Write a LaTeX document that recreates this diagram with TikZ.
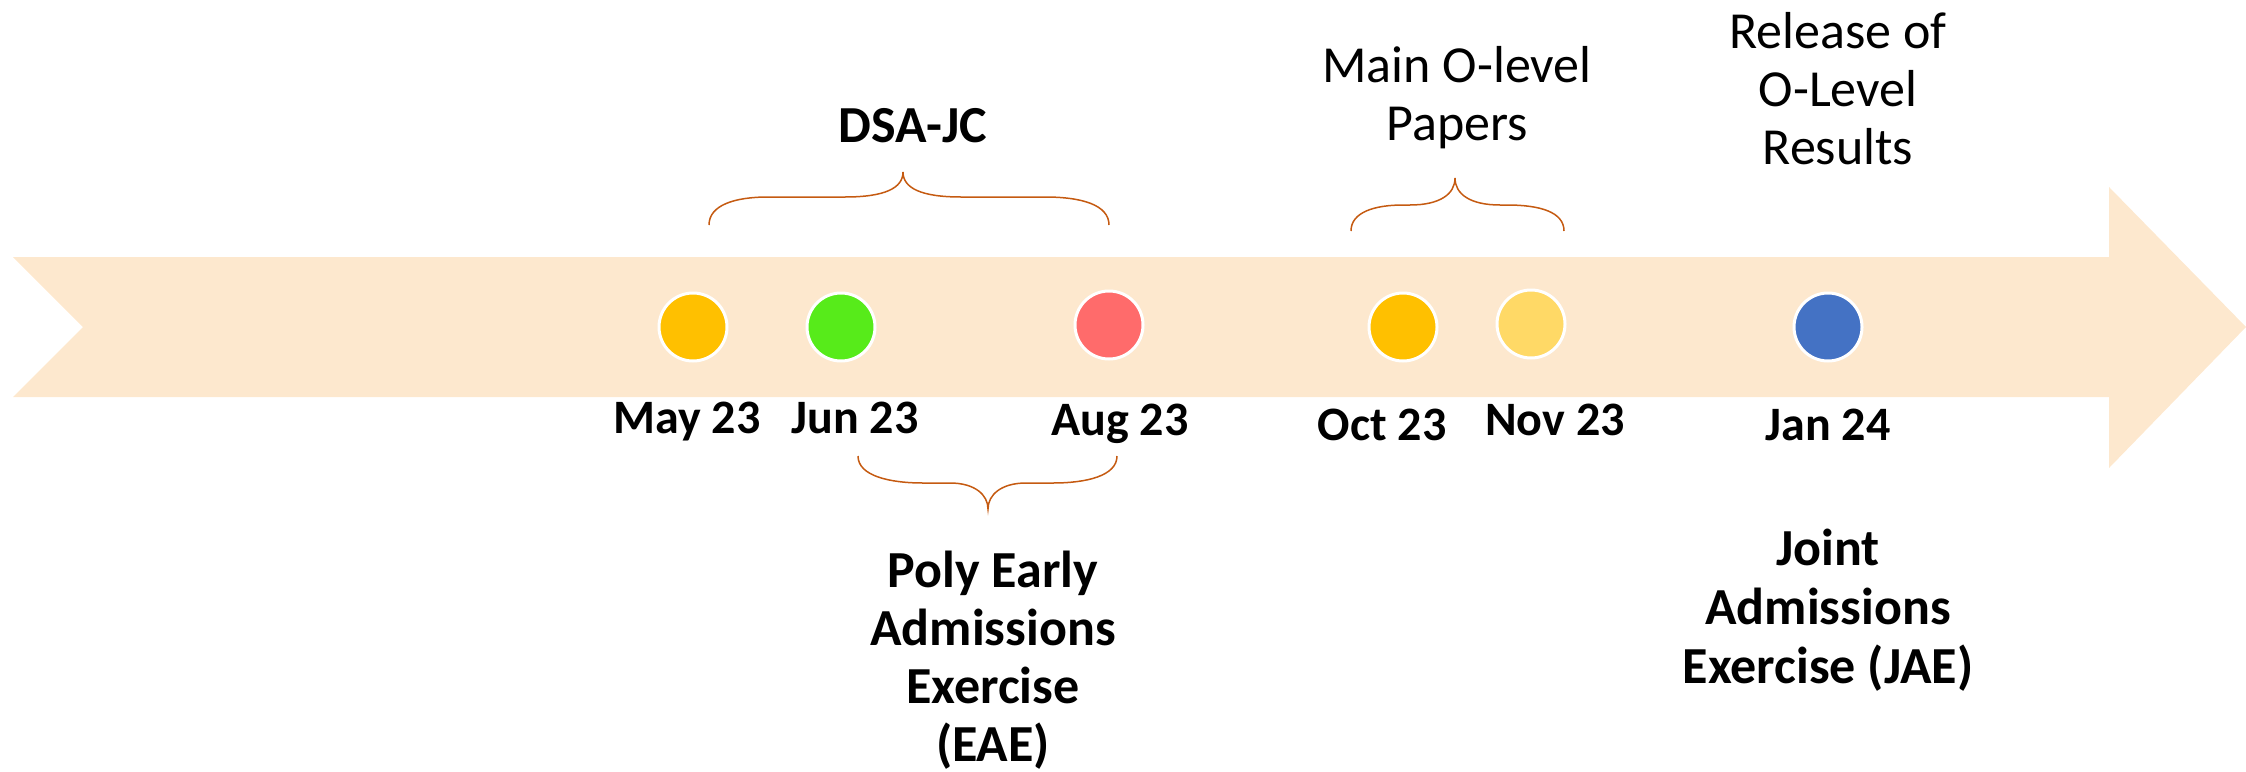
\documentclass[tikz,border=0pt]{standalone}
\usepackage{fontspec}
\setmainfont{Carlito}

\definecolor{band}{RGB}{253,232,206}
\definecolor{braceorange}{RGB}{197,90,17}
\definecolor{dotgold}{RGB}{255,192,0}
\definecolor{dotgreen}{RGB}{87,235,26}
\definecolor{dotred}{RGB}{255,107,107}
\definecolor{dotpale}{RGB}{255,217,102}
\definecolor{dotblue}{RGB}{68,114,196}

\tikzset{
  dot/.style={circle, draw=white, line width=3pt, minimum size=68pt, inner sep=0pt},
  datelbl/.style={font=\bfseries\fontsize{48}{58}\selectfont, anchor=base, inner sep=0pt},
  eventlbl/.style={align=center, anchor=base, inner sep=0pt},
  bracket/.style={draw=braceorange, line width=1.5pt},
}

\begin{document}
\begin{tikzpicture}[x=1pt, y=-1pt]
    \useasboundingbox (0, 0) rectangle (2246, 771);
    % timeline band
    \fill [band] (13, 257) -- (2109, 257) -- (2109, 187) -- (2246, 327)
      -- (2109, 468) -- (2109, 397) -- (13, 397) -- (83, 327) -- cycle;

    \node [dot, fill=dotgold] (may) at (693, 327) {};
    \node [dot, fill=dotgreen] (jun) at (841, 327) {};
    \node [dot, fill=dotred] (aug) at (1109, 325) {};
    \node [dot, fill=dotgold] (oct) at (1403, 327) {};
    \node [dot, fill=dotpale] (nov) at (1531, 324) {};
    \node [dot, fill=dotblue] (jan) at (1828, 327) {};

    \node [datelbl] (maylbl) at (687, 433) {May 23};
    \node [datelbl] (junlbl) at (855, 433) {Jun 23};
    \node [datelbl] (auglbl) at (1120, 435) {Aug 23};
    \node [datelbl] (octlbl) at (1382, 440) {Oct 23};
    \node [datelbl] (novlbl) at (1555, 435) {Nov 23};
    \node [datelbl] (janlbl) at (1828, 440) {Jan 24};

    % braces
    \draw [bracket] (709, 225) .. controls (709, 205) and (735, 197) .. (768, 197)
      -- (845, 197) .. controls (885, 197) and (903, 188) .. (903, 172)
      .. controls (903, 188) and (921, 197) .. (961, 197)
      -- (1045, 197) .. controls (1082, 197) and (1109, 205) .. (1109, 225);
    \draw [bracket] (1351, 231) .. controls (1351, 212) and (1375, 205) .. (1403, 205)
      -- (1410, 205) .. controls (1440, 205) and (1455, 194) .. (1455, 178)
      .. controls (1455, 194) and (1470, 205) .. (1500, 205)
      -- (1507, 205) .. controls (1540, 205) and (1564, 212) .. (1564, 231);
    \draw [bracket] (858, 456) .. controls (858, 476) and (890, 483) .. (923, 483)
      -- (950, 483) .. controls (975, 483) and (988, 495) .. (988, 509)
      .. controls (988, 495) and (1001, 483) .. (1026, 483)
      -- (1053, 483) .. controls (1086, 483) and (1117, 476) .. (1117, 456);

    \node [eventlbl, font=\bfseries\fontsize{52}{58}\selectfont] (dsa) at (913, 142) {DSA-JC};
    \node [eventlbl, font=\fontsize{52}{58}\selectfont] (papers) at (1457, 140) {Main O-level\\Papers};
    \node [eventlbl, font=\fontsize{52}{58}\selectfont] (results) at (1838, 164) {Release of\\O-Level\\Results};
    \node [eventlbl, font=\bfseries\fontsize{52}{58}\selectfont] (eae) at (993, 761)
      {Poly Early\\Admissions\\Exercise\\(EAE)};
    \node [eventlbl, font=\bfseries\fontsize{52}{59}\selectfont] (jae) at (1828, 683)
      {Joint\\Admissions\\Exercise (JAE)};
  \end{tikzpicture}
\end{document}
